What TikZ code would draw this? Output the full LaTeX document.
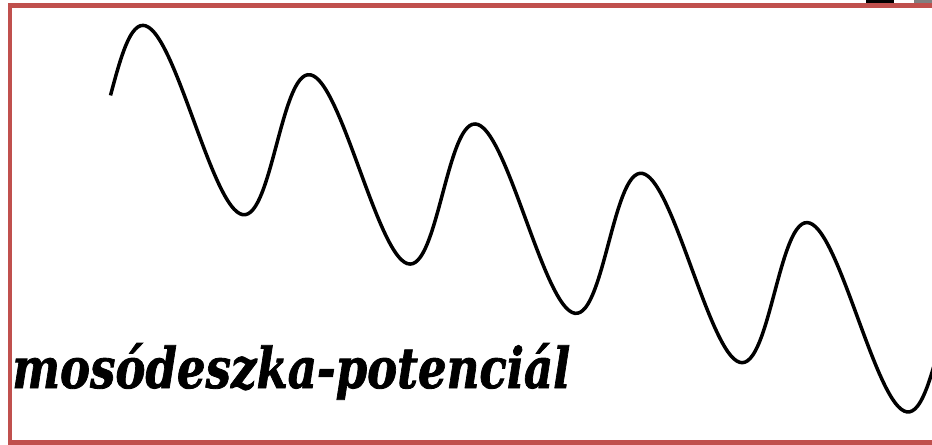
\documentclass[tikz,border=0pt]{standalone}
\usepackage{fontspec}
\setmainfont{DejaVu Serif}[BoldItalicFeatures={FakeBold=1.5}]
\usepackage{graphicx}
\definecolor{framered}{RGB}{192,80,77}

\begin{document}
\begin{tikzpicture}[x=0.02cm,y=-0.02cm]
\useasboundingbox (0,0) rectangle (932,445);
\clip (0,0) rectangle (932,445);
\fill[black] (866,0) rectangle (894,3.5);
\fill[gray] (914,0) rectangle (932,3.5);
\draw[framered,line width=0.09cm] (940,5.5) -- (9.8,5.5) -- (9.8,442.5) -- (940,442.5);
\draw[line width=0.07cm,smooth,samples=300,domain=110.5:945,variable=\u]
  plot ({\u-6.6*cos(2.1687*(\u-152))},{62.6+0.297*\u-82*cos(2.1687*(\u-152))});
\node[anchor=base west,inner sep=0pt] (title) at (12,388)
  {\resizebox{11.16cm}{0.9cm}{\bfseries\itshape mosódeszka-potenciál}};
\end{tikzpicture}
\end{document}
